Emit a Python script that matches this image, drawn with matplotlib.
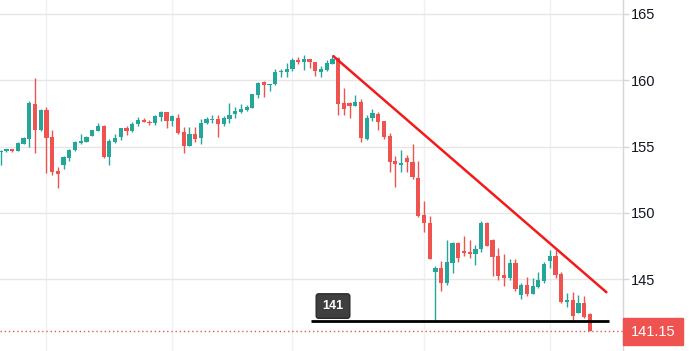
import numpy as np
import matplotlib
matplotlib.use("Agg")
import matplotlib.pyplot as plt
from matplotlib.patches import Rectangle

# daily candles
opens = [154.56, 154.64, 154.81, 154.68, 155.19, 155.56, 158.20, 156.24, 157.72, 155.69,
         153.14, 153.61, 154.16, 154.74, 155.26, 155.36, 155.81, 156.19, 156.54, 154.23,
         155.34, 155.74, 156.37, 156.17, 156.69, 157.00, 156.87, 156.79, 157.24, 157.59,
         156.92, 157.12, 156.09, 155.06, 155.94, 155.62, 156.77, 156.97, 157.07, 156.69,
         157.07, 157.44, 157.62, 157.74, 157.92, 158.87, 159.83, 159.62, 159.68, 160.58,
         160.62, 160.83, 161.50, 161.38, 161.58, 161.33, 160.58, 160.75, 161.23, 161.68,
         158.25, 158.25, 158.07, 158.35, 155.56, 157.12, 157.44, 156.92, 155.79, 153.91,
         153.63, 154.11, 153.81, 152.61, 149.85, 149.25, 145.59, 145.84, 144.76, 146.26,
         147.72, 147.14, 147.07, 146.94, 147.27, 149.22, 147.97, 146.77, 145.34, 145.14,
         146.22, 143.86, 144.59, 143.94, 144.46, 144.89, 146.39, 146.77, 145.41, 143.33,
         143.46, 142.48, 143.25, 142.41]
highs = [154.74, 154.85, 154.85, 155.32, 155.72, 158.42, 160.17, 157.82, 157.97, 156.24,
         153.44, 154.29, 154.81, 155.41, 155.94, 155.81, 156.26, 156.77, 156.60, 155.54,
         155.94, 156.42, 156.54, 156.82, 157.22, 157.14, 157.00, 157.37, 157.67, 157.62,
         157.37, 157.44, 156.47, 156.47, 156.47, 157.07, 157.24, 157.37, 157.37, 157.27,
         158.25, 157.94, 158.17, 158.12, 158.95, 159.85, 159.92, 159.68, 160.83, 160.83,
         161.25, 161.68, 161.71, 161.88, 161.62, 161.36, 161.08, 161.50, 161.80, 161.75,
         159.42, 158.32, 158.87, 158.57, 157.37, 157.82, 157.62, 156.95, 155.99, 154.29,
         154.74, 154.36, 155.19, 153.91, 150.90, 149.77, 146.02, 146.39, 147.97, 147.84,
         147.84, 148.27, 147.97, 147.57, 149.40, 149.30, 148.05, 147.39, 146.92, 146.52,
         146.52, 144.76, 145.19, 145.11, 145.56, 146.32, 147.22, 147.22, 145.56, 143.98,
         144.08, 143.83, 143.76, 142.48]
lows = [153.60, 154.60, 154.60, 154.66, 155.17, 154.99, 154.53, 156.17, 153.03, 152.86,
        151.90, 153.31, 153.91, 154.68, 155.19, 155.32, 155.76, 156.14, 154.16, 153.63,
        155.26, 155.49, 155.86, 156.12, 156.56, 156.82, 156.62, 156.59, 156.92, 156.42,
        156.56, 155.96, 154.53, 155.06, 155.34, 155.17, 156.69, 156.77, 155.71, 156.56,
        156.79, 157.17, 157.54, 157.67, 157.89, 158.67, 158.72, 159.20, 159.62, 160.23,
        160.25, 160.68, 161.20, 160.75, 160.93, 160.32, 160.25, 160.68, 161.18, 157.37,
        157.37, 157.17, 158.07, 155.36, 155.51, 156.94, 156.24, 155.56, 153.11, 151.98,
        153.11, 153.06, 152.53, 149.68, 148.60, 146.52, 141.80, 144.16, 144.59, 145.51,
        146.34, 146.79, 146.64, 146.09, 147.09, 147.54, 145.29, 144.96, 144.53, 144.96,
        144.14, 143.53, 143.78, 143.94, 144.38, 144.76, 145.84, 145.14, 143.25, 142.96,
        141.96, 142.48, 142.13, 141.15]
closes = [154.68, 154.81, 154.68, 155.24, 155.62, 158.29, 156.24, 157.74, 155.66, 153.11,
          152.93, 154.19, 154.74, 155.34, 155.41, 155.71, 156.24, 156.54, 154.23, 155.41,
          155.62, 156.37, 156.19, 156.67, 157.00, 156.84, 156.79, 157.29, 157.59, 156.92,
          157.29, 156.02, 155.06, 155.94, 155.59, 156.77, 157.07, 157.04, 156.71, 157.14,
          157.37, 157.67, 157.82, 157.99, 158.92, 159.75, 159.62, 159.68, 160.58, 160.68,
          160.83, 161.50, 161.38, 161.58, 161.33, 160.70, 160.83, 161.25, 161.58, 158.22,
          157.80, 158.07, 158.37, 155.62, 157.14, 157.52, 156.87, 155.74, 153.86, 153.66,
          153.76, 153.81, 152.68, 149.80, 149.22, 146.52, 145.84, 144.76, 146.29, 147.72,
          146.59, 147.02, 146.94, 147.29, 149.22, 147.54, 146.72, 145.29, 145.14, 146.22,
          144.29, 144.59, 143.94, 144.51, 144.96, 146.17, 146.77, 145.34, 143.33, 143.46,
          142.26, 143.25, 142.20, 141.15]

month_starts = [9, 31, 52, 75, 97]
y_ticks = [145, 150, 155, 160, 165]
last_price = 141.15

# drawings
trend_x = [59.15, 106.9]
trend_y = [161.8, 144.04]
support_level = 141.9
support_x = [55.3, 107.3]
support_label = "141"

GREEN = "#26a69a"
RED = "#ef5350"

W, H = 693, 351
fig = plt.figure(figsize=(W / 100, H / 100), dpi=100)
ax = fig.add_axes([0, 0, 623 / W, 1])

n = len(opens)
x = np.arange(1, n + 1)
o = np.array(opens)
c = np.array(closes)
up = c >= o
cols = np.where(up, GREEN, RED)

ax.vlines(x, lows, highs, colors=cols, linewidth=1.0, zorder=3)
bottom = np.minimum(o, c)
height = np.maximum(np.abs(c - o), 0.07)
ax.bar(x, height, bottom=bottom, width=0.74, color=cols, linewidth=0, zorder=4)

ax.set_xlim(0.88, 109.8)
ax.set_ylim(139.62, 166.02)

ax.set_xticks(month_starts)
ax.tick_params(axis="x", length=0, labelbottom=False)
ax.set_yticks(y_ticks)
ax.yaxis.tick_right()
ax.tick_params(axis="y", length=4, width=1, color="#d6d6d6", pad=2,
               labelsize=10.5, labelcolor="#131722")
for lab in ax.get_yticklabels():
    lab.set_fontfamily("Liberation Sans")

ax.grid(axis="y", color="#e6e6e6", linewidth=1)
ax.grid(axis="x", color="#edf1f6", linewidth=1)
ax.set_axisbelow(True)
for s in ["top", "left", "bottom"]:
    ax.spines[s].set_visible(False)
ax.spines["right"].set_color("#d6d6d6")
ax.spines["right"].set_linewidth(1)

# last price line
ax.axhline(last_price, color=RED, linewidth=1.0, linestyle=(0, (1, 2)), zorder=2)

# trend line and support
ax.plot(trend_x, trend_y, color="#f41a1a", linewidth=1.8, zorder=5,
        solid_capstyle="round")
ax.hlines(support_level, support_x[0], support_x[1], color="black", linewidth=2, zorder=5)
ax.text(59.1, 143.0, support_label, color="white", fontsize=9, fontweight="bold",
        family="Liberation Sans", ha="center", va="center", zorder=6,
        bbox=dict(boxstyle="round,pad=0.5,rounding_size=0.2", fc="#3f3f3f", ec="#2a2a2a", lw=1))

# price label on the axis
fig.patches.append(Rectangle((623 / W, 1 - 345 / H), 60 / W, 27 / H,
                             transform=fig.transFigure, color=RED, zorder=10))
fig.text(653 / W, 1 - 331.5 / H, f"{last_price:.2f}", color="white", fontsize=10.5,
         family="Liberation Sans", ha="center", va="center", zorder=11)

fig.savefig("out.png", dpi=100)
